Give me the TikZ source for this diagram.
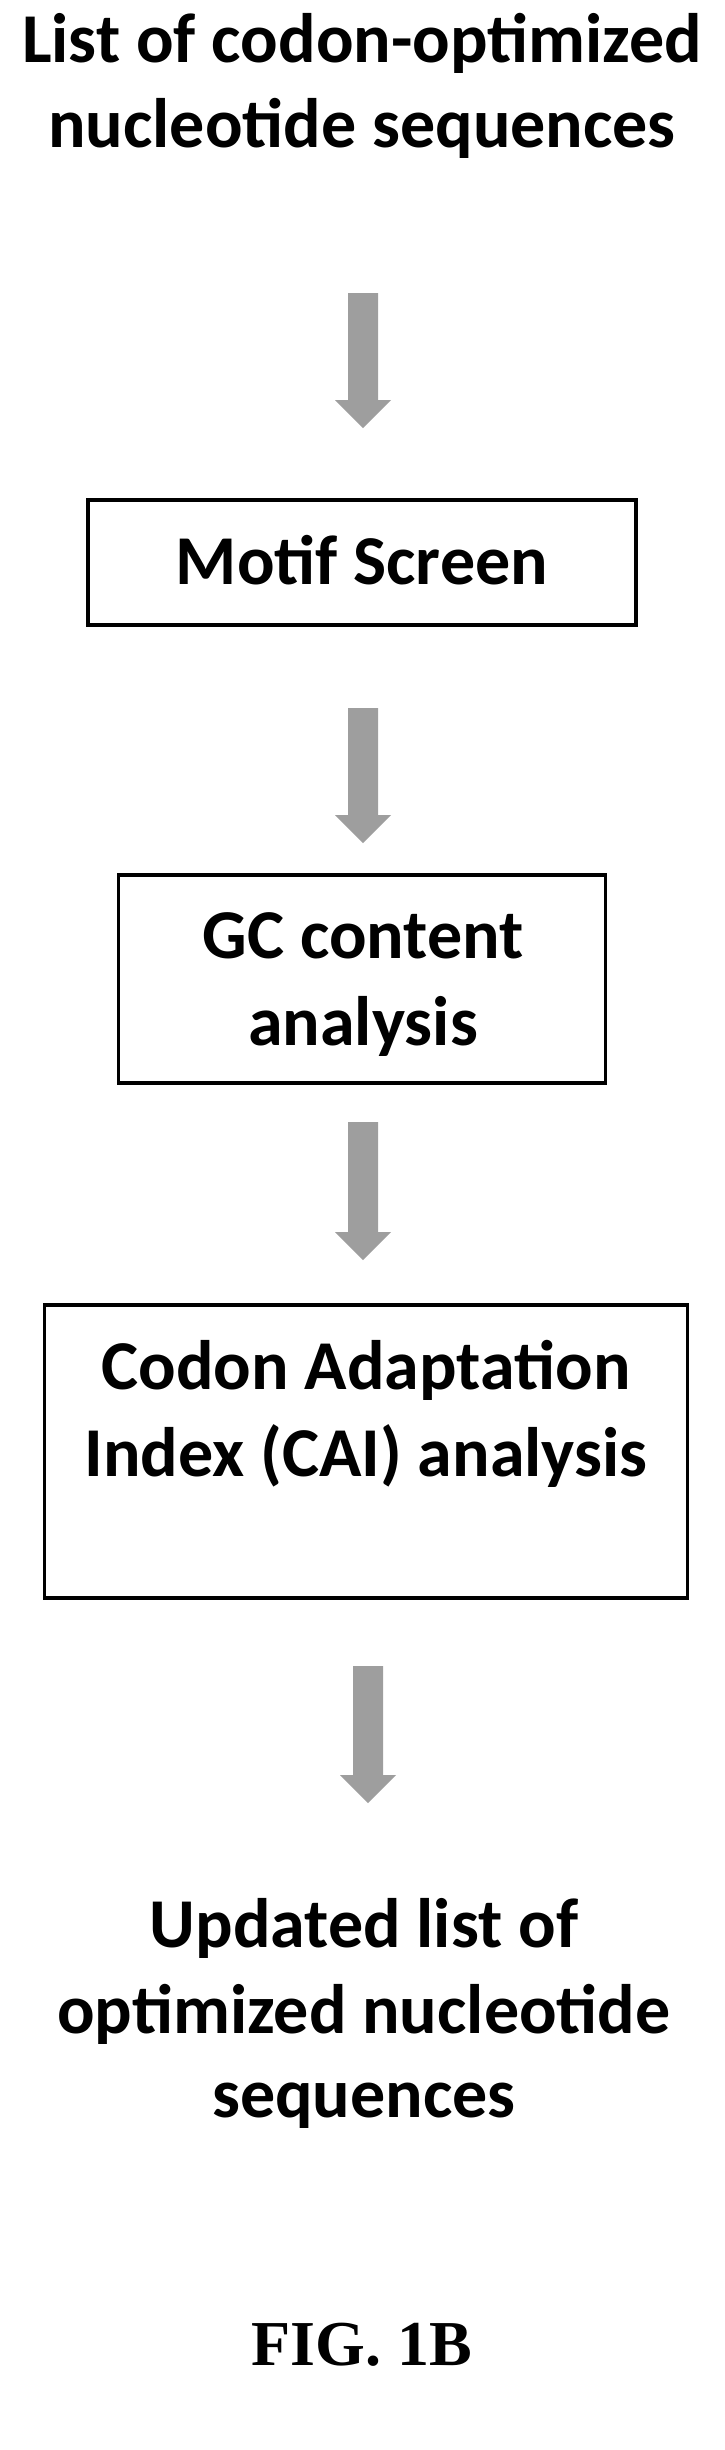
\documentclass[tikz,border=0pt]{standalone}
\usepackage{fontspec}
\setmainfont{Carlito}
\newfontfamily\figfont{Liberation Serif}
\begin{document}
\begin{tikzpicture}[x=1pt,y=-1pt,
  txt/.style={font=\bfseries\fontsize{70}{86}\selectfont, anchor=base, inner sep=0pt},
  boxn/.style={draw=black, line width=3.5pt, inner sep=0pt}]
\useasboundingbox (0,0) rectangle (724,2450);
\newcommand\garr[3]{% x, ytop, ybottom
  \fill[black!38] (#1-15,#2) -- (#1+15,#2) -- (#1+15,#3-28) -- (#1+28,#3-28) -- (#1,#3) -- (#1-28,#3-28) -- (#1-15,#3-28) -- cycle;}
% title
\node[txt] (t1) at (362,62) {List of codon-optimized};
\node[txt] (t2) at (362,147) {nucleotide sequences};
% boxes
\node[boxn, minimum width=548, minimum height=125] (b1) at (362,562.5) {};
\node[txt] (b1t) at (362,584) {Motif Screen};
\node[boxn, minimum width=487, minimum height=208] (b2) at (362,979) {};
\node[txt] (b2a) at (363,958) {GC content};
\node[txt] (b2b) at (363,1045) {analysis};
\node[boxn, minimum width=643, minimum height=293] (b3) at (366,1451.5) {};
\node[txt] (b3a) at (366,1389) {Codon Adaptation};
\node[txt] (b3b) at (366,1476) {Index (CAI) analysis};
% end text
\node[txt] (e1) at (364,1947) {Updated list of};
\node[txt] (e2) at (364,2033) {optimized nucleotide};
\node[txt] (e3) at (364,2117) {sequences};
\node[font=\figfont\bfseries\fontsize{64}{70}\selectfont] (fig) at (362,2345) {FIG. 1B};
% arrows
\garr{363}{293}{428}
\garr{363}{708}{843}
\garr{363}{1122}{1260}
\garr{368}{1666}{1803}
\end{tikzpicture}
\end{document}
